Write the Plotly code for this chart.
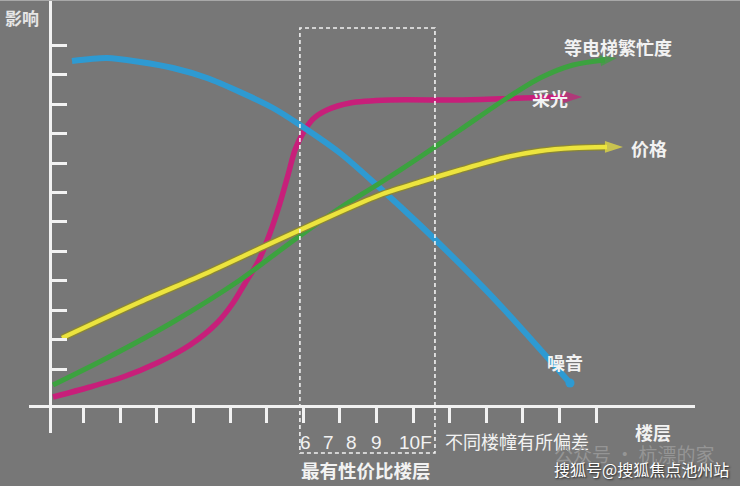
import plotly.graph_objects as go

# ---- data (x = floor index, y = influence level) ----
floor_ticks = list(range(1, 16))
influence_ticks = [1.25 + k for k in range(12)]

noise_x = [0.683, 1.639, 2.541, 3.443, 4.372, 5.273, 6.175, 6.913, 8.005, 9.098, 10.191, 11.284, 12.377, 14.290]
noise_y = [11.715, 11.817, 11.681, 11.477, 11.138, 10.662, 10.119, 9.542, 8.591, 7.402, 6.146, 4.822, 3.430, 0.781]

light_x = [0.164, 1.175, 2.077, 3.005, 3.907, 4.645, 5.082, 5.464, 5.765, 6.093, 6.366, 6.585, 6.776, 6.995,
           7.268, 7.650, 8.279, 9.372, 11.284, 13.005, 14.153, 14.617]
light_y = [0.306, 0.645, 0.985, 1.460, 2.071, 2.818, 3.497, 4.278, 4.890, 5.874, 6.893, 7.844, 8.693, 9.270,
           9.745, 10.051, 10.289, 10.390, 10.390, 10.458, 10.492, 10.492]

elevator_x = [0.164, 1.639, 3.443, 5.273, 6.639, 8.005, 9.098, 10.191, 11.284, 12.568, 13.470, 14.372, 15.246, 15.574]
elevator_y = [0.713, 1.630, 2.852, 4.278, 5.535, 6.723, 7.572, 8.455, 9.372, 10.458, 11.138, 11.579, 11.749, 11.817]

price_x = [0.410, 2.541, 4.372, 5.902, 6.913, 8.005, 9.098, 10.191, 11.284, 12.568, 13.470, 14.372, 15.301, 15.738]
price_y = [2.309, 3.531, 4.516, 5.399, 5.976, 6.587, 7.165, 7.606, 8.014, 8.455, 8.659, 8.761, 8.795, 8.795]

best_floor_range = (6.91, 10.60)

# ---- styling ----
BG = "#777777"
WHITE = "#f2f2f2"
BLUE = "#2e9ad2"
MAGENTA = "#c71f7a"
GREEN = "#3ca23f"
YELLOW = "#ece43e"
CJK = "Noto Sans CJK SC"

fig = go.Figure()


def curve(xs, ys, color, width, arrow=True, under=None, size=19):
    line_x = xs[:-1] if arrow else xs
    line_y = ys[:-1] if arrow else ys
    if under:
        fig.add_trace(go.Scatter(x=line_x, y=line_y, mode="lines",
                                 line=dict(color=under, width=width + 2.5, shape="spline", smoothing=0.8),
                                 hoverinfo="skip", showlegend=False))
    fig.add_trace(go.Scatter(x=line_x, y=line_y, mode="lines",
                             line=dict(color=color, width=width, shape="spline", smoothing=0.8),
                             hoverinfo="skip", showlegend=False))
    if arrow:
        fig.add_trace(go.Scatter(x=xs[-2:], y=ys[-2:], mode="markers",
                                 marker=dict(symbol="arrow", angleref="previous", size=[0, size],
                                             color=color, line=dict(width=0)),
                                 hoverinfo="skip", showlegend=False))


curve(light_x, light_y, MAGENTA, 5.5, size=20)
curve(noise_x, noise_y, BLUE, 6, arrow=False)
fig.add_trace(go.Scatter(x=noise_x[-1:], y=noise_y[-1:], mode="markers",
                         marker=dict(symbol="circle", size=9, color=BLUE),
                         hoverinfo="skip", showlegend=False))
curve(elevator_x, elevator_y, GREEN, 5, size=18)
curve(price_x, price_y, YELLOW, 4.5, under="#8a8636", size=19)

PLOT_L, PLOT_R, PLOT_T, PLOT_B = 29, 695, 0, 433


def fx(px):
    return (px - PLOT_L) / (PLOT_R - PLOT_L)


def fy(py):
    return (PLOT_B - py) / (PLOT_B - PLOT_T)


def label(text, cx, cy, size=18, color=WHITE, bold=True, family=CJK, shadow=None):
    font = dict(family=family, size=size, color=color)
    if shadow:
        font["shadow"] = shadow
    fig.add_annotation(text=f"<b>{text}</b>" if bold else text,
                       x=fx(cx), y=fy(cy), xref="paper", yref="paper",
                       xanchor="center", yanchor="middle", showarrow=False, font=font)


label("影响", 22, 17, size=17, color="#e6e6e6")
label("等电梯繁忙度", 618, 47)
label("采光", 550, 98)
label("价格", 649, 148)
label("噪音", 565, 362)
for t, cx in zip(["6", "7", "8", "9", "10F"], [305, 328, 351, 376, 415]):
    label(t, cx, 442, size=19, bold=False, family="Liberation Sans")
label("最有性价比楼层", 366, 470, size=18.5)
label("不同楼幢有所偏差", 517, 441, bold=False)
label("楼层", 653, 432)
label("公众号 · 杭漂的家", 634, 453, size=19, color="#959595", bold=False)
label("搜狐号@搜狐焦点池州站", 641, 469, size=16, color="#ffffff", bold=False,
      shadow="1px 1px 2px #222")

# dashed box of the best floors
fig.add_shape(type="rect", xref="x", yref="paper",
              x0=best_floor_range[0], x1=best_floor_range[1], y0=fy(453), y1=fy(28),
              line=dict(color=WHITE, width=1.6, dash="4px,3px"), layer="above")

# thin light border along the top edge of the picture
fig.add_shape(type="line", xref="paper", yref="paper",
              x0=fx(0), x1=fx(740), y0=fy(0.5), y1=fy(0.5),
              line=dict(color="#a8a8a8", width=1), layer="above")

fig.update_layout(
    width=740, height=486,
    margin=dict(l=PLOT_L, r=740 - PLOT_R, t=PLOT_T, b=486 - PLOT_B, pad=0),
    paper_bgcolor=BG, plot_bgcolor=BG,
    showlegend=False,
    xaxis=dict(range=[(PLOT_L - 47) / 36.6, (PLOT_R - 47) / 36.6],
               anchor="free", position=fy(406),
               showline=True, linecolor=WHITE, linewidth=2.5,
               ticks="outside", ticklen=15, tickwidth=2.5, tickcolor=WHITE,
               tickvals=floor_ticks, showticklabels=False,
               showgrid=False, zeroline=False, fixedrange=True),
    yaxis=dict(range=[(406 - PLOT_B) / 29.45, 406 / 29.45],
               anchor="free", position=fx(50),
               showline=True, linecolor=WHITE, linewidth=2.5,
               ticks="inside", ticklen=15, tickwidth=2.5, tickcolor=WHITE,
               tickvals=influence_ticks, showticklabels=False,
               showgrid=False, zeroline=False, fixedrange=True),
)

fig.write_html("out.html", config={"displayModeBar": False},
               post_script="document.body.style.margin='0';document.body.style.overflow='hidden';")
